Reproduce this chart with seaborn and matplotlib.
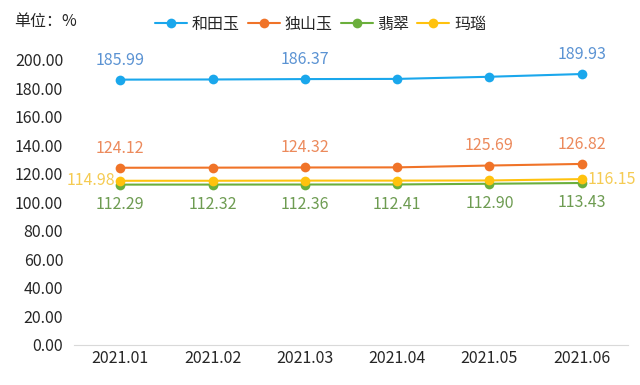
import matplotlib
matplotlib.use("Agg")
import matplotlib.pyplot as plt
import seaborn as sns
import pandas as pd

# ------------------------------
# Data
# ------------------------------
months = ["2021.01", "2021.02", "2021.03", "2021.04", "2021.05", "2021.06"]
series_names = ["和田玉", "独山玉", "翡翠", "玛瑙"]
hetian = [185.99, 186.10, 186.37, 186.50, 188.00, 189.93]
dushan = [124.12, 124.20, 124.32, 124.40, 125.69, 126.82]
feicui = [112.29, 112.32, 112.36, 112.41, 112.90, 113.43]
manao = [114.98, 115.00, 115.10, 115.10, 115.20, 116.15]
y_ticks = [0, 20, 40, 60, 80, 100, 120, 140, 160, 180, 200]

line_colors = ["#1AA7EC", "#F07328", "#6BAF3C", "#FFC20E"]
label_colors = ["#5B93D3", "#EC8A5C", "#6E9C52", "#F5CB52"]

df = pd.DataFrame({"月份": months, "和田玉": hetian, "独山玉": dushan, "翡翠": feicui, "玛瑙": manao})
long_df = df.melt(id_vars="月份", var_name="品类", value_name="值")

# ------------------------------
# Plot
# ------------------------------
sns.set_style("white")
plt.rcParams["font.family"] = ["Noto Sans CJK SC", "DejaVu Sans"]
fs = 11.5

fig, ax = plt.subplots(figsize=(6.4, 3.85), dpi=100)
fig.subplots_adjust(left=0.116, right=0.981, top=0.845, bottom=0.105)

sns.lineplot(data=long_df, x="月份", y="值", hue="品类", hue_order=series_names,
             palette=line_colors, marker="o", markersize=7, markeredgewidth=0,
             linewidth=1.5, ax=ax, sort=False)

ax.set_ylim(0, 200)
ax.set_xlim(-0.5, 5.5)
ax.set_yticks(y_ticks)
ax.set_yticklabels([f"{v:.2f}" for v in y_ticks], fontsize=fs)
ax.tick_params(axis="x", labelsize=fs, length=0, pad=4)
ax.tick_params(axis="y", length=0, pad=8)
ax.set_xlabel("")
ax.set_ylabel("")
for s in ["top", "right", "left"]:
    ax.spines[s].set_visible(False)
ax.spines["bottom"].set_color("#D9D9D9")

# data labels
for i in [0, 2, 5]:
    ax.annotate(f"{hetian[i]:.2f}", (i, hetian[i]), xytext=(0, 8), textcoords="offset points",
                ha="center", va="bottom", color=label_colors[0], fontsize=fs)
for i in [0, 2, 4, 5]:
    ax.annotate(f"{dushan[i]:.2f}", (i, dushan[i]), xytext=(0, 8), textcoords="offset points",
                ha="center", va="bottom", color=label_colors[1], fontsize=fs)
for i in range(len(months)):
    ax.annotate(f"{feicui[i]:.2f}", (i, feicui[i]), xytext=(0, -8), textcoords="offset points",
                ha="center", va="top", color=label_colors[2], fontsize=fs)
ax.annotate(f"{manao[0]:.2f}", (0, manao[0]), xytext=(-4, 0), textcoords="offset points",
            ha="right", va="center", color=label_colors[3], fontsize=fs)
ax.annotate(f"{manao[5]:.2f}", (5, manao[5]), xytext=(4, 0), textcoords="offset points",
            ha="left", va="center", color=label_colors[3], fontsize=fs)

ax.legend(loc="upper center", bbox_to_anchor=(0.445, 1.205), ncol=4, frameon=False,
          fontsize=fs, handlelength=2.0, columnspacing=0.5, handletextpad=0.3)
fig.text(0.022, 0.945, "单位：%", fontsize=fs, va="center", ha="left")

plt.savefig("out.png", dpi=100)
